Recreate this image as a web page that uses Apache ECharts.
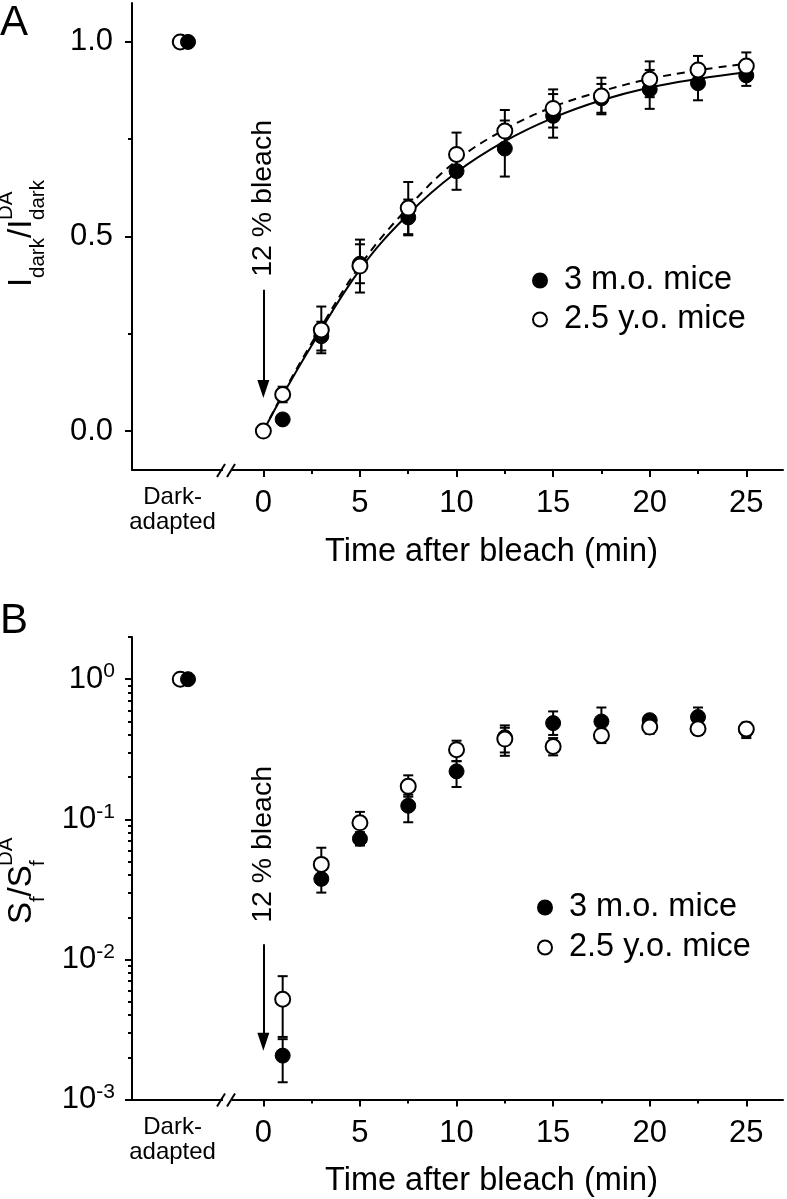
<!DOCTYPE html>
<html><head><meta charset="utf-8">
<script src="https://cdn.jsdelivr.net/npm/echarts@6/dist/echarts.min.js"></script>
<style>html,body{margin:0;padding:0;background:#fff}#c{width:787px;height:1199px}</style>
</head><body><div id="c"></div>
<script>
const FONT = "'Liberation Sans', Arial, sans-serif";
// ---------- shared ----------
const seriesNames = ['3 m.o. mice', '2.5 y.o. mice'];
const xTicks = [0, 5, 10, 15, 20, 25];
const xMinorTicks = [2.5, 7.5, 12.5, 17.5, 22.5];
const darkPosFilled = -3.9, darkPosOpen = -4.3, darkLabelPos = -4.7;
const xTitle = 'Time after bleach (min)';
const bleachText = '12 % bleach';

// ---------- panel A ----------
const aTimeFilled = [1, 3, 5, 7.5, 10, 12.5, 15, 17.5, 20, 22.5, 25];
const aValFilled  = [0.03, 0.244, 0.43, 0.549, 0.668, 0.726, 0.81, 0.855, 0.878, 0.894, 0.914];
const aErrFilled  = [0.008, 0.037, 0.05, 0.046, 0.048, 0.072, 0.056, 0.037, 0.05, 0.044, 0.027];
const aTimeOpen = [0, 1, 3, 5, 7.5, 10, 12.5, 15, 17.5, 20, 22.5, 25];
const aValOpen  = [0, 0.094, 0.26, 0.424, 0.573, 0.711, 0.771, 0.829, 0.861, 0.904, 0.928, 0.938];
const aErrOpen  = [0, 0.02, 0.06, 0.068, 0.067, 0.056, 0.054, 0.049, 0.047, 0.046, 0.036, 0.035];
const aDarkFilled = 1.0, aDarkOpen = 1.0;
const fitTime   = [0, 1, 2.5, 5, 7.5, 10, 12.5, 15, 17.5, 20, 22.5, 25];
const fitFilled = [0, 0.092, 0.22, 0.415, 0.557, 0.665, 0.745, 0.805, 0.85, 0.883, 0.905, 0.922];
const fitOpen   = [0, 0.095, 0.226, 0.425, 0.575, 0.695, 0.775, 0.833, 0.873, 0.905, 0.927, 0.944];
const aYTicks = [0, 0.5, 1.0];
const aYMinor = [0.25, 0.75];
const aArrow = [0.363, 0.108];
const aBleachTextY = 0.598;

// ---------- panel B ----------
const bTimeFilled = [1, 3, 5, 7.5, 10, 12.5, 15, 17.5, 20, 22.5, 25];
const bValFilled  = [0.00206, 0.0376, 0.0727, 0.125, 0.22, 0.385, 0.486, 0.499, 0.51, 0.537, 0.435];
const bLoFilled   = [0.00133, 0.030, 0.065, 0.0953, 0.17, 0.30, 0.40, 0.40, 0.45, 0.46, 0.39];
const bHiFilled   = [0.0027, 0.045, 0.081, 0.15, 0.26, 0.468, 0.589, 0.628, 0.548, 0.628, 0.48];
const bTimeOpen = [1, 3, 5, 7.5, 10, 12.5, 15, 17.5, 20, 22.5, 25];
const bValOpen  = [0.0052, 0.0477, 0.0944, 0.172, 0.314, 0.374, 0.331, 0.397, 0.455, 0.443, 0.441];
const bLoOpen   = [0.0028, 0.040, 0.08, 0.145, 0.26, 0.284, 0.286, 0.35, 0.408, 0.40, 0.38];
const bHiOpen   = [0.0076, 0.0627, 0.113, 0.206, 0.364, 0.45, 0.38, 0.44, 0.5, 0.49, 0.49];
const bDarkFilled = 1.0, bDarkOpen = 1.0;
const bYTicks = [0.001, 0.01, 0.1, 1];
const bYMinor = [0.002,0.003,0.004,0.005,0.006,0.007,0.008,0.009,
                 0.02,0.03,0.04,0.05,0.06,0.07,0.08,0.09,
                 0.2,0.3,0.4,0.5,0.6,0.7,0.8,0.9,2];
const bArrow = [0.01285, 0.00259];
const bBleachTextY = 0.0662;

// ---------- helpers ----------
const black = '#000';
const filledStyle = {color: black, borderColor: black, borderWidth: 1, opacity: 1};
const openStyle = {color: '#fff', borderColor: black, borderWidth: 2, opacity: 1};
const SYM = 15;

function errRender(params, api) {
  const x = api.value(0), lo = api.value(1), hi = api.value(2);
  const p1 = api.coord([x, hi]), p2 = api.coord([x, lo]);
  const w = 5;
  const style = {stroke: black, lineWidth: 2};
  return {type: 'group', children: [
    {type: 'line', shape: {x1: p1[0], y1: p1[1], x2: p2[0], y2: p2[1]}, style},
    {type: 'line', shape: {x1: p1[0] - w, y1: p1[1], x2: p1[0] + w, y2: p1[1]}, style},
    {type: 'line', shape: {x1: p2[0] - w, y1: p2[1], x2: p2[0] + w, y2: p2[1]}, style}
  ]};
}
function errSeries(xi, yi, t, lo, hi) {
  const data = [];
  t.forEach((v, i) => { if (hi[i] > lo[i]) data.push([v, lo[i], hi[i]]); });
  return {type: 'custom', xAxisIndex: xi, yAxisIndex: yi, renderItem: errRender,
    encode: {x: 0, y: [1, 2]}, data, z: 1, silent: true};
}
function pts(t, v) { return t.map((x, i) => [x, v[i]]); }

function mainX(g) {
  return {
    type: 'value', gridIndex: g, min: -6.8, max: 26.9, position: 'bottom',
    axisLine: {show: true, onZero: false, lineStyle: {color: black, width: 2}},
    axisTick: {show: true, inside: false, length: 7, customValues: xTicks, lineStyle: {color: black, width: 2}},
    axisLabel: {show: true, customValues: [darkLabelPos].concat(xTicks), margin: 18,
      color: black, fontSize: 31, fontFamily: FONT,
      formatter: v => (Math.abs(v - darkLabelPos) < 1e-9 ? '{d|Dark-}\n{d|adapted}' : String(v)),
      rich: {d: {fontSize: 24, lineHeight: 25, fontFamily: FONT, color: black, padding: [-6, 0, 0, 0]}}},
    splitLine: {show: false},
    name: xTitle, nameLocation: 'middle', nameGap: 62,
    nameTextStyle: {fontSize: 32.5, color: black, fontFamily: FONT, padding: [0, 0, 0, 68]}
  };
}
function minorX(g) {
  return {type: 'value', gridIndex: g, min: -6.8, max: 26.9, position: 'bottom',
    axisLine: {show: false, onZero: false},
    axisTick: {show: true, length: 4, customValues: xMinorTicks, lineStyle: {color: black, width: 2}},
    axisLabel: {show: false}, splitLine: {show: false}};
}

const option = {
  animation: false,
  backgroundColor: '#fff',
  grid: [
    {left: 132, top: 3, width: 651, height: 467},
    {left: 132, top: 637, width: 651, height: 464}
  ],
  xAxis: [mainX(0), mainX(1), minorX(0), minorX(1)],
  yAxis: [
    {type: 'value', gridIndex: 0, min: -0.1, max: 1.1, position: 'left',
      axisLine: {show: true, onZero: false, lineStyle: {color: black, width: 2}},
      axisTick: {show: true, length: 7, customValues: aYTicks, lineStyle: {color: black, width: 2}},
      axisLabel: {customValues: aYTicks, formatter: v => v.toFixed(1), color: black, fontSize: 31, fontFamily: FONT, margin: 19},
      splitLine: {show: false}},
    {type: 'log', logBase: 10, gridIndex: 1, min: 0.001, max: 2, position: 'left',
      axisLine: {show: true, onZero: false, lineStyle: {color: black, width: 2}},
      axisTick: {show: true, length: 7, customValues: bYTicks, lineStyle: {color: black, width: 2}},
      axisLabel: {customValues: bYTicks, margin: 17, color: black, fontFamily: FONT,
        formatter: v => '{b|10}{s|' + Math.round(Math.log10(v)) + '}',
        rich: {b: {fontSize: 31, lineHeight: 36, fontFamily: FONT, color: black},
               s: {fontSize: 21, lineHeight: 14, verticalAlign: 'top', fontFamily: FONT, color: black}}},
      splitLine: {show: false}},
    {type: 'value', gridIndex: 0, min: -0.1, max: 1.1, position: 'left',
      axisLine: {show: false, onZero: false},
      axisTick: {show: true, length: 4, customValues: aYMinor, lineStyle: {color: black, width: 2}},
      axisLabel: {show: false}, splitLine: {show: false}},
    {type: 'log', logBase: 10, gridIndex: 1, min: 0.001, max: 2, position: 'left',
      axisLine: {show: false, onZero: false},
      axisTick: {show: true, length: 4, customValues: bYMinor, lineStyle: {color: black, width: 2}},
      axisLabel: {show: false}, splitLine: {show: false}}
  ],
  legend: [
    {orient: 'vertical', left: 527, top: 257, data: seriesNames, selectedMode: false,
      itemWidth: 14, itemHeight: 14, itemGap: 2, icon: 'circle',
      textStyle: {fontSize: 32.5, fontFamily: FONT, color: black, lineHeight: 37, padding: [0, 0, 0, 12]}},
    {orient: 'vertical', left: 532, top: 884, data: seriesNames, selectedMode: false,
      itemWidth: 14, itemHeight: 14, itemGap: 3, icon: 'circle',
      textStyle: {fontSize: 32.5, fontFamily: FONT, color: black, lineHeight: 37, padding: [0, 0, 0, 12]}}
  ],
  series: [
    // ----- panel A -----
    errSeries(0, 0, aTimeFilled, aValFilled.map((v, i) => v - aErrFilled[i]), aValFilled.map((v, i) => v + aErrFilled[i])),
    errSeries(0, 0, aTimeOpen, aValOpen.map((v, i) => v - aErrOpen[i]), aValOpen.map((v, i) => v + aErrOpen[i])),
    {type: 'line', name: 'fit A filled', xAxisIndex: 0, yAxisIndex: 0, data: pts(fitTime, fitFilled), smooth: 0.4,
      showSymbol: false, symbol: 'none', lineStyle: {color: black, width: 2}, z: 2, silent: true},
    {type: 'line', name: 'fit A open', xAxisIndex: 0, yAxisIndex: 0, data: pts(fitTime, fitOpen), smooth: 0.4,
      showSymbol: false, symbol: 'none', lineStyle: {color: black, width: 2, type: [8, 6]}, z: 2, silent: true},
    {type: 'scatter', name: seriesNames[0], xAxisIndex: 0, yAxisIndex: 0, data: pts(aTimeFilled, aValFilled),
      symbol: 'circle', symbolSize: SYM, itemStyle: filledStyle, z: 3},
    {type: 'scatter', name: seriesNames[1], xAxisIndex: 0, yAxisIndex: 0, data: pts(aTimeOpen, aValOpen),
      symbol: 'circle', symbolSize: SYM, itemStyle: openStyle, z: 4,
      markLine: {silent: true, animation: false, symbol: ['none', 'triangle'], symbolSize: [12, 18],
        label: {show: false}, lineStyle: {color: black, width: 2, type: 'solid'},
        emphasis: {disabled: true},
        data: [[{coord: [0, aArrow[0]]}, {coord: [0, aArrow[1]]}]]}},
    {type: 'scatter', name: seriesNames[1], xAxisIndex: 0, yAxisIndex: 0, data: [[darkPosOpen, aDarkOpen]],
      symbol: 'circle', symbolSize: SYM, itemStyle: openStyle, z: 5},
    {type: 'scatter', name: seriesNames[0], xAxisIndex: 0, yAxisIndex: 0, data: [[darkPosFilled, aDarkFilled]],
      symbol: 'circle', symbolSize: SYM, itemStyle: filledStyle, z: 6},
    // ----- panel B -----
    errSeries(1, 1, bTimeFilled, bLoFilled, bHiFilled),
    errSeries(1, 1, bTimeOpen, bLoOpen, bHiOpen),
    {type: 'scatter', name: seriesNames[0], xAxisIndex: 1, yAxisIndex: 1, data: pts(bTimeFilled, bValFilled),
      symbol: 'circle', symbolSize: SYM, itemStyle: filledStyle, z: 3},
    {type: 'scatter', name: seriesNames[1], xAxisIndex: 1, yAxisIndex: 1, data: pts(bTimeOpen, bValOpen),
      symbol: 'circle', symbolSize: SYM, itemStyle: openStyle, z: 4,
      markLine: {silent: true, animation: false, symbol: ['none', 'triangle'], symbolSize: [12, 18],
        label: {show: false}, lineStyle: {color: black, width: 2, type: 'solid'},
        emphasis: {disabled: true},
        data: [[{coord: [0, bArrow[0]]}, {coord: [0, bArrow[1]]}]]}},
    {type: 'scatter', name: seriesNames[1], xAxisIndex: 1, yAxisIndex: 1, data: [[darkPosOpen, bDarkOpen]],
      symbol: 'circle', symbolSize: SYM, itemStyle: openStyle, z: 5},
    {type: 'scatter', name: seriesNames[0], xAxisIndex: 1, yAxisIndex: 1, data: [[darkPosFilled, bDarkFilled]],
      symbol: 'circle', symbolSize: SYM, itemStyle: filledStyle, z: 6}
  ]
};

const chart = echarts.init(document.getElementById('c'), null, {renderer: 'canvas'});
chart.setOption(option);

// ---------- annotations positioned through the axes ----------
function txt(x, y, text, size, extra) {
  return Object.assign({type: 'text', x, y, style: {text, font: size + 'px ' + FONT, fontSize: size, fontFamily: FONT,
    fill: black, align: 'left', verticalAlign: 'middle', textAlign: 'left', textVerticalAlign: 'middle'}}, extra || {});
}
function yTitle(x, y, parts) {
  return {type: 'group', x, y, rotation: Math.PI / 2, children: parts.map(p => txt(p[0], p[1], p[2], p[3]))};
}
const breakX = -1.83;
const g = [];
[0, 1].forEach(gi => {
  const ymin = gi === 0 ? -0.1 : 0.001;
  const p = chart.convertToPixel({xAxisIndex: gi, yAxisIndex: gi}, [breakX, ymin]);
  g.push({type: 'rect', shape: {x: p[0] - 5, y: p[1] - 3, width: 9, height: 6}, style: {fill: '#fff'}, z: 100});
  g.push({type: 'line', shape: {x1: p[0] - 11, y1: p[1] + 7, x2: p[0] - 3, y2: p[1] - 6}, style: {stroke: black, lineWidth: 2}, z: 101});
  g.push({type: 'line', shape: {x1: p[0] - 1, y1: p[1] + 7, x2: p[0] + 7, y2: p[1] - 6}, style: {stroke: black, lineWidth: 2}, z: 101});
});
const ta = chart.convertToPixel({xAxisIndex: 0, yAxisIndex: 0}, [0, aBleachTextY]);
const tb = chart.convertToPixel({xAxisIndex: 1, yAxisIndex: 1}, [0, bBleachTextY]);
g.push({type: 'text', x: ta[0], y: ta[1], rotation: Math.PI / 2, style: {text: bleachText, fontSize: 28.5, fontFamily: FONT, fill: black,
  align: 'center', verticalAlign: 'middle', textAlign: 'center', textVerticalAlign: 'middle'}, z: 100});
g.push({type: 'text', x: tb[0], y: tb[1], rotation: Math.PI / 2, style: {text: bleachText, fontSize: 28.5, fontFamily: FONT, fill: black,
  align: 'center', verticalAlign: 'middle', textAlign: 'center', textVerticalAlign: 'middle'}, z: 100});
// panel letters
g.push({type: 'text', x: 0, y: 23, style: {text: 'A', fontSize: 42, fontFamily: FONT, fill: black, align: 'left', verticalAlign: 'middle', textAlign: 'left', textVerticalAlign: 'middle'}});
g.push({type: 'text', x: 0, y: 621, style: {text: 'B', fontSize: 42, fontFamily: FONT, fill: black, align: 'left', verticalAlign: 'middle', textAlign: 'left', textVerticalAlign: 'middle'}});
// y-axis titles
g.push(yTitle(22, 287, [[0, 0, 'I', 33], [9, 16, 'dark', 20.5], [49, 0, '/I', 33], [67, 16, 'dark', 20.5], [67, -16, 'DA', 20.5]]));
g.push(yTitle(22, 924, [[0, 0, 'S', 33], [22, 16, 'f', 20.5], [27.5, 0, '/S', 33], [58, 16, 'f', 20.5], [58, -16, 'DA', 20.5]]));
chart.setOption({graphic: g});
</script></body></html>
